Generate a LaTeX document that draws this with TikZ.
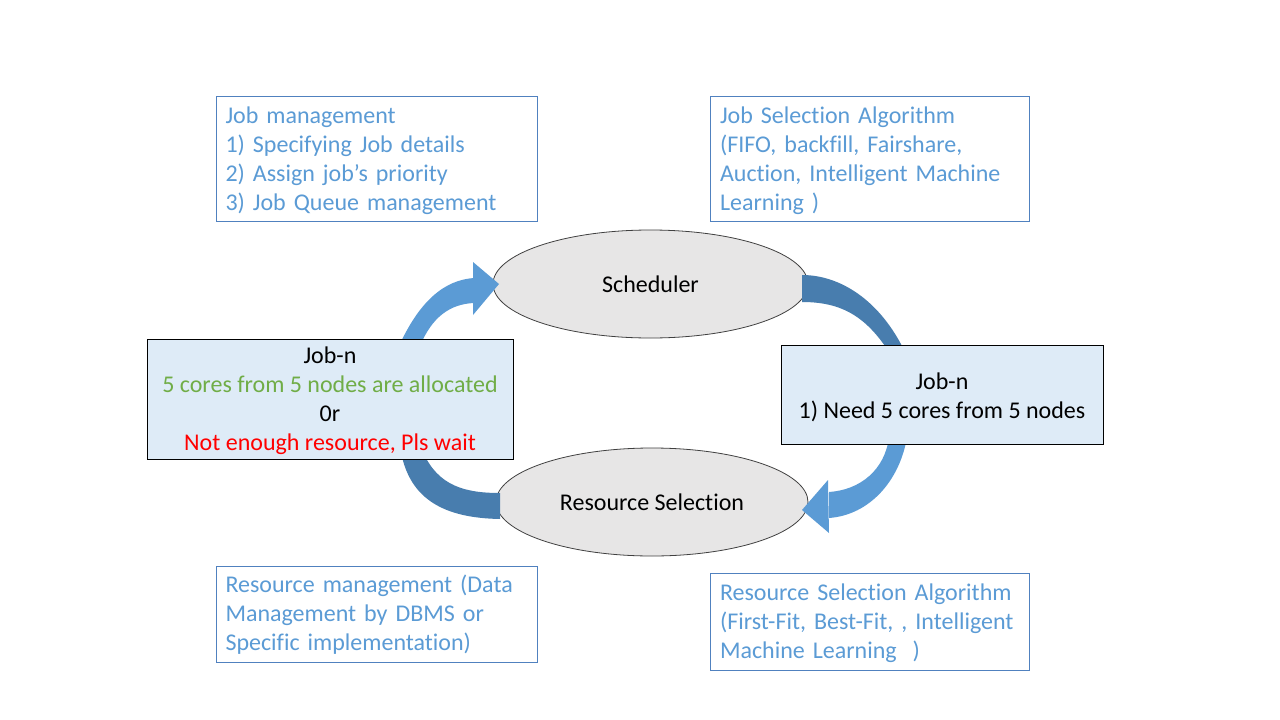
\documentclass[tikz,border=0pt]{standalone}
\usepackage{fontspec}
\setmainfont{Carlito}[Ligatures=NoCommon]
\usetikzlibrary{shapes.geometric}

\definecolor{accent}{HTML}{5B9BD5}
\definecolor{accentdark}{HTML}{487DAE}
\definecolor{boxline}{HTML}{5081BF}
\definecolor{jobfill}{HTML}{DEEBF7}
\definecolor{ovalfill}{HTML}{E7E6E6}
\definecolor{ovalline}{HTML}{404040}
\definecolor{okgreen}{HTML}{70AD47}

\begin{document}
\begin{tikzpicture}[x=1pt, y=-1pt,
  every node/.style={font=\fontsize{24}{29}\selectfont},
  infobox/.style={draw=boxline, line width=1pt, anchor=north west, inner sep=0pt},
  infotext/.style={text=accent, align=left, inner sep=0pt, anchor=center},
  jobbox/.style={draw=black, fill=jobfill, line width=1pt, inner sep=0pt},
  jobtext/.style={align=center, inner sep=0pt, anchor=center},
  oval/.style={ellipse, draw=ovalline, fill=ovalfill, line width=0.8pt, inner sep=0pt},
  lightarrow/.style={fill=accent},
  darkarrow/.style={fill=accentdark}
]
% page
\fill[white] (0,0) rectangle (1280,720);
\useasboundingbox (0,0) rectangle (1280,720);

% the two stages of the cycle
\node[oval, minimum width=315pt, minimum height=108pt] (sched) at (650.5,284) {Scheduler};
\node[oval, minimum width=312pt, minimum height=108pt] (rsel) at (652,502) {Resource Selection};

% block arrows running round the cycle
% left job -> scheduler
\path[lightarrow] (399,346) .. controls (420,300) and (445,280) .. (474,278)
  -- (474,303) .. controls (450,304) and (432,317) .. (420,346) -- cycle;
\path[lightarrow] (473,262) -- (499,284) -- (473,315) -- cycle;
% scheduler -> right job
\path[darkarrow] (802,275) .. controls (840,275) and (880,300) .. (905,352)
  -- (889,352) .. controls (865,315) and (840,302) .. (802,302) -- cycle;
% right job -> resource selection
\path[lightarrow] (907,437) .. controls (900,480) and (870,515) .. (829,518)
  -- (829,492) .. controls (860,490) and (885,470) .. (889,437) -- cycle;
\path[lightarrow] (828,480) -- (802,510) -- (829,533) -- cycle;
% resource selection -> left job
\path[darkarrow] (401,452) .. controls (410,500) and (445,518) .. (500,519)
  -- (500,493) .. controls (465,493) and (438,486) .. (423,452) -- cycle;

% job state boxes
\node[jobbox, minimum width=366pt, minimum height=120pt] (jobleft) at (330,399) {};
\node[jobtext, yshift=-2pt] (jobleft-text) at (jobleft.center)
  {Job-n\\ \textcolor{okgreen}{5 cores from 5 nodes are allocated}\\ 0r\\
   \textcolor{red}{Not enough resource, Pls wait}};
\node[jobbox, minimum width=322pt, minimum height=99pt] (jobright) at (942,394.5) {};
\node[jobtext, yshift=-3pt] (jobright-text) at (jobright.center)
  {Job-n\\ 1) Need 5 cores from 5 nodes};

% notes on each part
\node[infobox, minimum width=321pt, minimum height=125pt] (jobmgmt) at (216,96) {};
\node[infotext, text width=303pt, yshift=-2pt] (jobmgmt-text) at (jobmgmt.center)
  {Job management\\ 1) Specifying Job details\\ 2) Assign job’s priority\\ 3) Job Queue management};
\node[infobox, minimum width=319pt, minimum height=125pt] (jobalgo) at (710,96) {};
\node[infotext, text width=300pt, yshift=-2pt] (jobalgo-text) at (jobalgo.center)
  {Job Selection Algorithm\\ (FIFO, backfill, Fairshare,\\ Auction, Intelligent Machine\\ Learning )};
\node[infobox, minimum width=321pt, minimum height=96pt] (resmgmt) at (216,566) {};
\node[infotext, text width=303pt] (resmgmt-text) at (resmgmt.center)
  {Resource management (Data\\ Management by DBMS or\\ Specific implementation)};
\node[infobox, minimum width=319pt, minimum height=97pt] (resalgo) at (710,573) {};
\node[infotext, text width=300pt, yshift=-1pt] (resalgo-text) at (resalgo.center)
  {Resource Selection Algorithm\\ (First-Fit, Best-Fit, , Intelligent\\ Machine Learning~~)};
\end{tikzpicture}
\end{document}
